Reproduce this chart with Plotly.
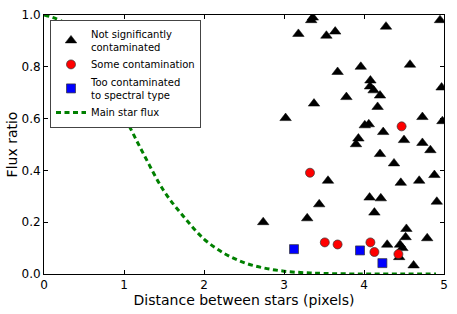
import plotly.graph_objects as go

# Not significantly contaminated (triangles)
tri_x = [3.36, 3.34, 3.18, 3.53, 3.64, 4.275, 4.95, 4.575, 3.96, 3.67, 4.08, 4.075, 4.12, 4.2,
         4.97, 3.78, 4.17, 3.375, 3.02, 4.73, 4.98, 4.01, 4.06, 4.24, 3.93, 3.9, 4.5, 4.73,
         4.83, 4.2, 4.375, 3.55, 4.46, 4.69, 4.88, 4.07, 4.21, 4.91, 3.44, 4.13, 3.29, 2.74,
         4.53, 4.52, 4.79, 4.29, 4.45, 4.48, 4.44, 4.62]
tri_y = [0.99, 0.98, 0.927, 0.92, 0.936, 0.955, 0.98, 0.808, 0.80, 0.78, 0.747, 0.724, 0.709, 0.689,
         0.72, 0.683, 0.645, 0.658, 0.602, 0.606, 0.59, 0.574, 0.578, 0.548, 0.523, 0.501, 0.517, 0.506,
         0.478, 0.463, 0.427, 0.36, 0.352, 0.36, 0.382, 0.295, 0.292, 0.279, 0.269, 0.237, 0.215, 0.2,
         0.174, 0.142, 0.138, 0.113, 0.113, 0.10, 0.065, 0.033]

# Some contamination (red circles)
circ_x = [4.47, 3.325, 3.51, 3.67, 4.08, 4.13, 4.43]
circ_y = [0.57, 0.391, 0.122, 0.114, 0.122, 0.085, 0.077]

# Too contaminated to spectral type (blue squares)
sq_x = [3.125, 3.95, 4.23]
sq_y = [0.096, 0.091, 0.042]

# Main star flux curve
flux_x = [0.0, 0.25, 0.5, 0.75, 1.0, 1.25, 1.5, 1.75, 2.0, 2.25, 2.5, 2.75, 3.0, 3.25, 3.5, 4.0, 4.5, 4.9]
flux_y = [1.0, 0.97, 0.88, 0.75, 0.61, 0.46, 0.32, 0.22, 0.135, 0.08, 0.044, 0.023, 0.011, 0.005, 0.002, 0.0, 0.0, 0.0]

x_ticks = [0, 1, 2, 3, 4, 5]
y_ticks = [0.0, 0.2, 0.4, 0.6, 0.8, 1.0]

FONT = "DejaVu Sans"

fig = go.Figure()
fig.add_trace(go.Scatter(
    x=tri_x, y=tri_y, mode="markers", name="Not significantly<br>contaminated",
    marker=dict(symbol="triangle-up", size=10, color="black", line=dict(color="black", width=0.5)),
))
fig.add_trace(go.Scatter(
    x=circ_x, y=circ_y, mode="markers", name="Some contamination",
    marker=dict(symbol="circle", size=9, color="red", line=dict(color="#333333", width=0.7)),
))
fig.add_trace(go.Scatter(
    x=sq_x, y=sq_y, mode="markers", name="Too contaminated<br>to spectral type",
    marker=dict(symbol="square", size=9, color="blue", line=dict(color="#333333", width=0.7)),
))
fig.add_trace(go.Scatter(
    x=flux_x, y=flux_y, mode="lines", name="Main star flux",
    line=dict(color="green", width=3, dash="5px,3.5px", shape="spline"),
))

fig.update_layout(
    width=457, height=314,
    margin=dict(l=44, r=13, t=15, b=40, autoexpand=False),
    paper_bgcolor="white", plot_bgcolor="white",
    font=dict(family=FONT, size=12, color="black"),
    showlegend=True,
    legend=dict(
        x=0.015, y=0.981, xanchor="left", yanchor="top",
        bordercolor="#444444", borderwidth=1, bgcolor="white",
        font=dict(family=FONT, size=10, color="black"),
        tracegroupgap=0, itemwidth=30,
    ),
)
fig.update_xaxes(
    range=[0, 5], tickvals=x_ticks, ticktext=[str(v) for v in x_ticks],
    showline=True, linecolor="black", linewidth=1, mirror="ticks",
    ticks="inside", ticklen=4, tickcolor="black", showgrid=False, zeroline=False,
    tickfont=dict(family=FONT, size=12), automargin=False,
    title=dict(text="Distance between stars (pixels)", font=dict(family=FONT, size=14), standoff=0),
)
fig.update_yaxes(
    range=[0, 1], tickvals=y_ticks, ticktext=["%.1f" % v for v in y_ticks],
    showline=True, linecolor="black", linewidth=1, mirror="ticks",
    ticks="inside", ticklen=4, tickcolor="black", showgrid=False, zeroline=False,
    tickfont=dict(family=FONT, size=12), automargin=False,
    title=dict(text="Flux ratio", font=dict(family=FONT, size=14), standoff=0),
)

fig.write_html(
    "out.html",
    config={"displayModeBar": False},
    post_script="document.body.style.margin='0px';document.body.style.padding='0px';",
)
